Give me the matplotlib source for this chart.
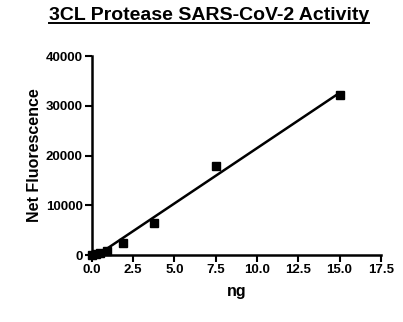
import numpy as np
import matplotlib.pyplot as plt
from matplotlib.lines import Line2D

plt.rcParams['font.family'] = ['Liberation Sans', 'DejaVu Sans']
plt.rcParams['font.weight'] = 'bold'

ng = [0.0, 0.234, 0.469, 0.9375, 1.875, 3.75, 7.5, 15.0]
fluor = [0, 150, 400, 900, 2450, 6400, 17800, 32100]

xticks = [0.0, 2.5, 5.0, 7.5, 10.0, 12.5, 15.0, 17.5]
yticks = [0, 10000, 20000, 30000, 40000]

fig = plt.figure(figsize=(4.03, 3.22), dpi=100)
ax = fig.add_axes([0.228, 0.208, 0.717, 0.618])

# linear fit over the measured range
slope, intercept = np.polyfit(ng, fluor, 1)
xfit = np.array([min(ng), max(ng)])
ax.plot(xfit, slope * xfit + intercept, color='black', lw=1.8, clip_on=False)
ax.plot(ng, fluor, 's', color='black', ms=5.5, clip_on=False, zorder=3)

ax.set_xlim(0, 17.5)
ax.set_ylim(0, 40000)
ax.set_xticks(xticks)
ax.set_xticklabels([f'{v:.1f}' for v in xticks])
ax.set_yticks(yticks)
ax.set_yticklabels([str(v) for v in yticks])

for s in ['top', 'right']:
    ax.spines[s].set_visible(False)
for s in ['left', 'bottom']:
    ax.spines[s].set_linewidth(1.8)
ax.tick_params(direction='out', length=5, width=1.5, labelsize=9.5, pad=1.5)

ax.set_xlabel('ng', fontsize=11.5, fontweight='bold', labelpad=6)
ax.set_ylabel('Net Fluorescence', fontsize=11.5, fontweight='bold', labelpad=3)

title = fig.text(0.518, 0.952, '3CL Protease SARS-CoV-2 Activity', ha='center', va='center',
                 fontsize=14, fontweight='bold')

# underline the title
fig.canvas.draw()
bb = title.get_window_extent().transformed(fig.transFigure.inverted())
fig.add_artist(Line2D([bb.x0, bb.x1], [bb.y0 + 0.002, bb.y0 + 0.002],
                      transform=fig.transFigure, color='black', lw=1.4))

fig.savefig('out.png', dpi=100)
